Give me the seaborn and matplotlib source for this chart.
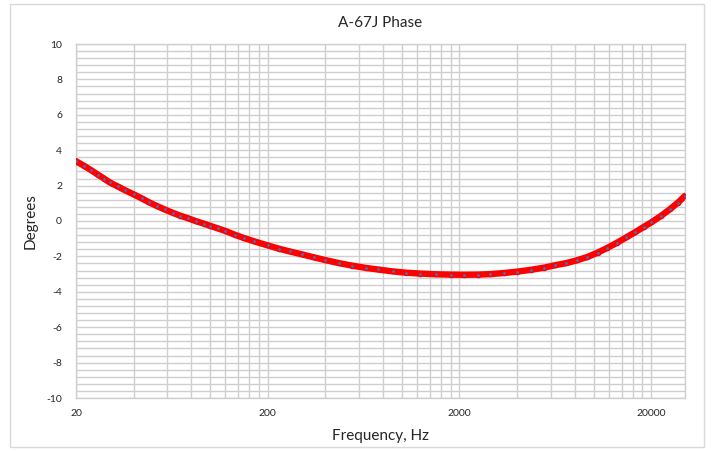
import matplotlib
matplotlib.use("Agg")
import matplotlib.pyplot as plt
import seaborn as sns
import numpy as np
from matplotlib.ticker import FixedLocator, NullFormatter
from matplotlib.patches import Rectangle

# ---- data ----
freq_hz = [20, 22, 24, 26, 28, 30, 33, 36, 40, 44, 48, 53, 58, 64, 70, 77, 85, 93,
           100, 110, 120, 135, 150, 170, 200, 230, 260, 300, 350, 400, 470, 550,
           650, 750, 900, 1050, 1250, 1500, 1800, 2100, 2500, 2900, 3400, 4000,
           4700, 5500, 6300, 7200, 8200, 9300, 10500, 11800, 13200, 14800, 16500,
           18300, 20000, 22500, 25000, 27500, 30000]
phase_deg = [3.38, 3.12, 2.87, 2.62, 2.40, 2.18, 1.95, 1.74, 1.50, 1.28, 1.06, 0.84,
             0.65, 0.46, 0.30, 0.15, -0.02, -0.15, -0.27, -0.42, -0.56, -0.78, -0.96,
             -1.15, -1.38, -1.57, -1.72, -1.88, -2.06, -2.21, -2.38, -2.52, -2.65,
             -2.74, -2.85, -2.92, -2.97, -3.01, -3.03, -3.04, -3.03, -3.00, -2.94,
             -2.86, -2.76, -2.64, -2.50, -2.38, -2.22, -2.03, -1.79, -1.52, -1.24,
             -0.93, -0.63, -0.33, -0.08, 0.29, 0.66, 1.03, 1.42]
x_major_ticks = [20, 200, 2000, 20000]
x_major_labels = ["20", "200", "2000", "20000"]
y_ticks = [-10, -8, -6, -4, -2, 0, 2, 4, 6, 8, 10]

title = "A-67J Phase"
xlabel = "Frequency, Hz"
ylabel = "Degrees"

sns.set_theme(style="white")
plt.rcParams['font.family'] = ['Lato', 'DejaVu Sans']

fig = plt.figure(figsize=(7.15, 4.51), dpi=100)
ax = fig.add_axes([76/715, 1-398/451, (685-76)/715, (398-44)/451])

grid_c = "#cfcfcf"

sns.lineplot(x=freq_hz, y=phase_deg, ax=ax, color="#ff0000", linewidth=4.6,
             marker="o", markersize=3.0, markerfacecolor="#4472C4",
             markeredgecolor="#ff0000", markeredgewidth=1.0, zorder=5,
             sort=False, estimator=None, solid_capstyle="round",
             solid_joinstyle="round")

ax.set_xscale("log")
ax.set_xlim(20, 30000)
ax.set_ylim(-10, 10)

minor_x = [20 * k * 10**n for n in range(4) for k in range(2, 10) if 20 * k * 10**n < 30000]
ax.xaxis.set_major_locator(FixedLocator(x_major_ticks))
ax.set_xticklabels(x_major_labels)
ax.xaxis.set_minor_locator(FixedLocator(minor_x))
ax.xaxis.set_minor_formatter(NullFormatter())

ax.yaxis.set_major_locator(FixedLocator(y_ticks))
ax.set_yticklabels([str(v) for v in y_ticks])
minor_y = [round(-10 + 0.4 * i, 2) for i in range(51)]
ax.yaxis.set_minor_locator(FixedLocator(minor_y))

ax.grid(True, which="both", axis="both", color=grid_c, linewidth=1.0, zorder=0)
ax.set_axisbelow(True)

for s in ax.spines.values():
    s.set_color(grid_c)
    s.set_linewidth(1.0)

ax.tick_params(axis="both", which="both", length=0, labelsize=7.5, colors="#262626")
ax.tick_params(axis="y", pad=10)
ax.tick_params(axis="x", pad=8)

ax.set_title(title, fontsize=11, color="#262626", pad=12)
ax.set_xlabel(xlabel, fontsize=11, color="#262626", labelpad=8)
ax.set_ylabel(ylabel, fontsize=11, color="#262626", labelpad=6)

fig.patches.append(Rectangle((10/715, 4/451), (704-10)/715, (447-4)/451,
                             transform=fig.transFigure, fill=False,
                             edgecolor="#d9d9d9", linewidth=1.0))

fig.savefig("out.png", dpi=100, facecolor="white")
